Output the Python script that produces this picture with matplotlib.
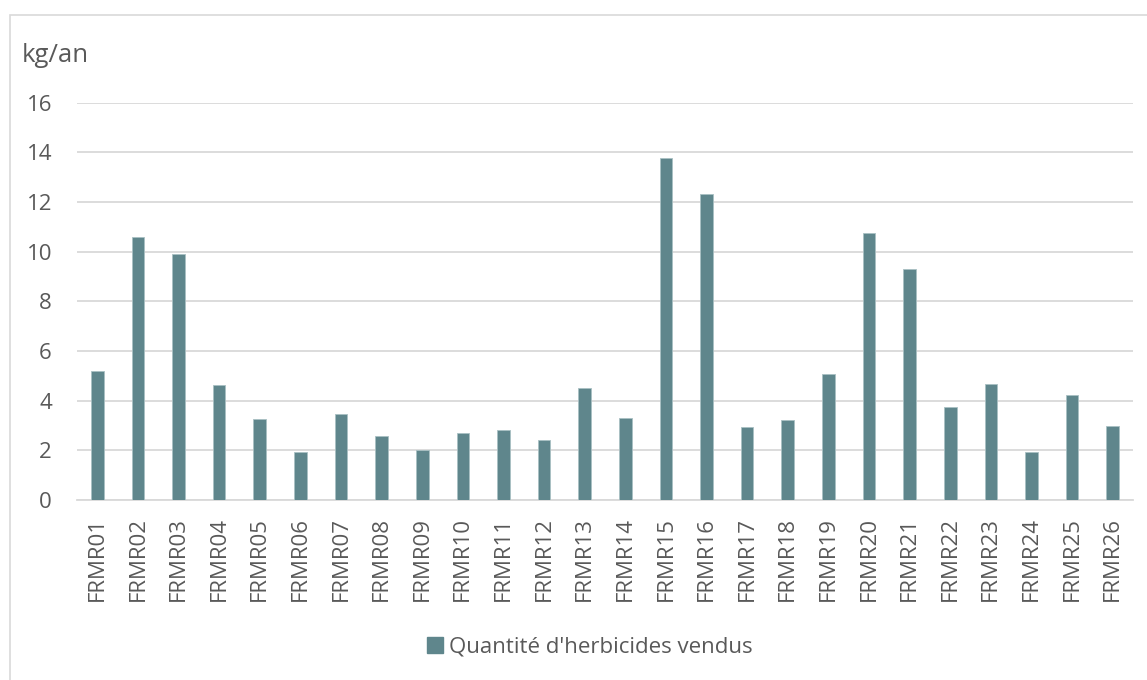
import matplotlib
matplotlib.use("Agg")
import matplotlib.pyplot as plt
from matplotlib.patches import Rectangle, Patch

categories = [f"FRMR{i:02d}" for i in range(1, 27)]
values = [5.20, 10.59, 9.91, 4.62, 3.25, 1.93, 3.45, 2.56, 2.03, 2.69,
          2.81, 2.42, 4.52, 3.29, 13.79, 12.34, 2.95, 3.22, 5.06, 10.75,
          9.29, 3.75, 4.66, 1.93, 4.22, 2.97]
yticks = [0, 2, 4, 6, 8, 10, 12, 14, 16]
series_name = "Quantité d'herbicides vendus"
unit_label = "kg/an"

BAR = "#5F868C"
TXT = "#595959"
GRID = "#D9D9D9"

plt.rcParams['font.family'] = ['Open Sans', 'DejaVu Sans']

W, H = 1147, 680
fig = plt.figure(figsize=(W / 100, H / 100), dpi=100)
fig.patch.set_facecolor("white")

# outer chart border (cut at right/bottom)
fig.add_artist(Rectangle((9.5 / W, -0.05), 1.2, 1 - 14.5 / H + 0.05,
                         transform=fig.transFigure, fill=False,
                         edgecolor=GRID, linewidth=1.2))

ax = fig.add_axes([77 / W, 1 - 500 / H, (1133 - 77) / W, (500 - 102.7) / H])
x = list(range(len(categories)))
ax.bar(x, values, width=0.31, color=BAR, edgecolor="#A9C0C3", linewidth=0.6, zorder=3)
ax.set_xlim(-0.5, len(categories) - 0.5)
ax.set_ylim(0, 16)
ax.set_yticks(yticks)
ax.set_yticklabels([str(t) for t in yticks])
ax.set_xticks(x)
ax.set_xticklabels(categories, rotation=90)
ax.yaxis.grid(True, color=GRID, linewidth=1.3, zorder=0)
ax.set_axisbelow(True)
for s in ["top", "right", "left"]:
    ax.spines[s].set_visible(False)
ax.spines["bottom"].set_color(GRID)
ax.spines["bottom"].set_linewidth(1.3)
ax.tick_params(axis="both", length=0, colors=TXT, labelsize=16)
ax.tick_params(axis="y", pad=18)
ax.tick_params(axis="x", pad=12.5)

fig.text(22 / W, 1 - 55 / H, unit_label, color=TXT, fontsize=18.5, ha="left", va="center")

handle = Patch(facecolor=BAR, edgecolor=BAR)
fig.legend([handle], [series_name], loc="center", bbox_to_anchor=(590 / W, 1 - 647 / H),
           frameon=False, fontsize=16, labelcolor=TXT, handlelength=0.7,
           handleheight=0.7, handletextpad=0.3)

fig.savefig("out.png", dpi=100, facecolor="white")
